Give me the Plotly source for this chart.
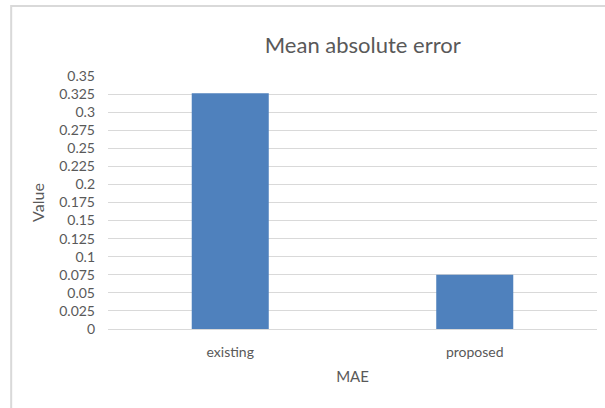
import plotly.graph_objects as go

categories = ["existing", "proposed"]
mae_values = [0.326, 0.075]
tick_vals = [0, 0.025, 0.05, 0.075, 0.1, 0.125, 0.15, 0.175, 0.2, 0.225, 0.25, 0.275, 0.3, 0.325, 0.35]
tick_text = ["0", "0.025", "0.05", "0.075", "0.1", "0.125", "0.15", "0.175", "0.2", "0.225", "0.25", "0.275", "0.3", "0.325", "0.35"]

FONT = "Lato"
GRAY = "#595959"

fig = go.Figure(go.Bar(x=categories, y=mae_values, marker=dict(color="#4f81bd", line=dict(width=0)), width=0.315))

fig.update_layout(
    width=605, height=408,
    margin=dict(l=108, r=8, t=76, b=79),
    paper_bgcolor="white", plot_bgcolor="white",
    font=dict(family=FONT, color=GRAY),
    showlegend=False,
    title=dict(text="Mean absolute error", x=0.521, xref="paper", xanchor="center",
               y=0.89, yref="container", yanchor="middle",
               font=dict(family=FONT, size=22, color=GRAY)),
    xaxis=dict(showgrid=False, showline=True, linecolor="#d9d9d9", linewidth=1,
               tickfont=dict(family=FONT, size=14, color=GRAY), ticklabelstandoff=10,
               title=dict(text="MAE", font=dict(family=FONT, size=15, color=GRAY), standoff=12)),
    yaxis=dict(range=[0, 0.35], tickvals=tick_vals, ticktext=tick_text,
               showgrid=True, gridcolor="#d9d9d9", gridwidth=1, zeroline=False,
               tickfont=dict(family=FONT, size=14, color=GRAY), ticklabelstandoff=12,
               title=dict(text="Value", font=dict(family=FONT, size=16, color=GRAY), standoff=10)),
    shapes=[dict(type="rect", xref="paper", yref="paper", x0=-0.198, x1=1.2, y0=-0.5, y1=1.277,
                 line=dict(color="#d9d9d9", width=2), layer="below")],
)

fig.write_html("out.html")
